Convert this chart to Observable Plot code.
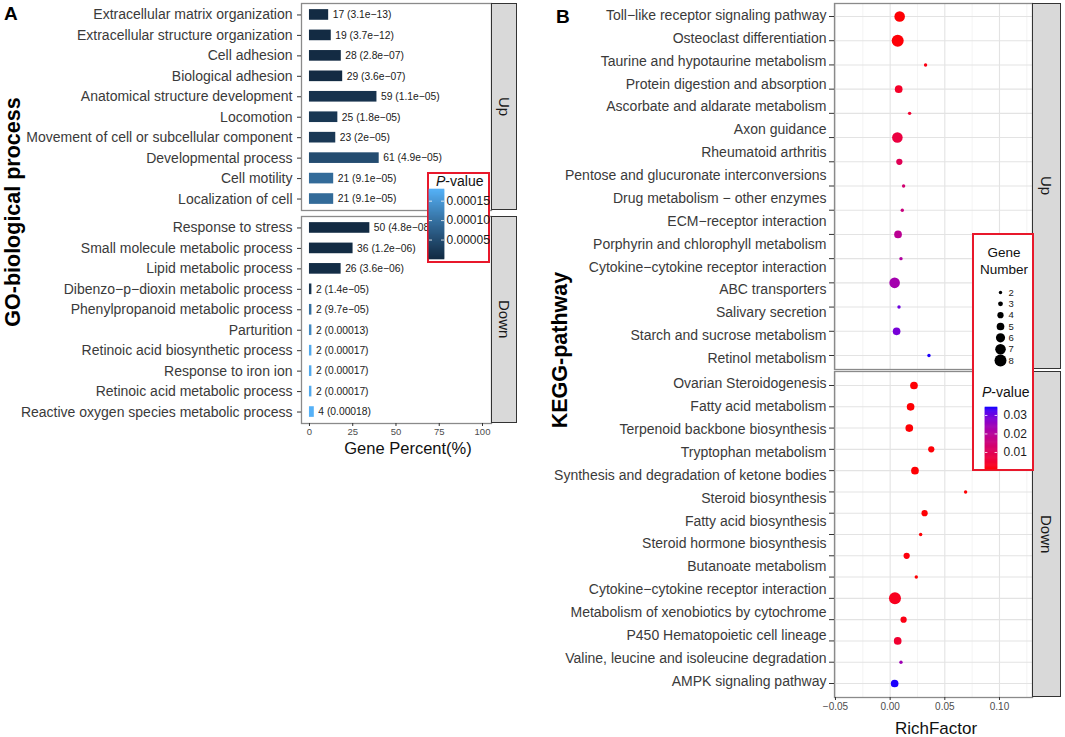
<!DOCTYPE html>
<html>
<head>
<meta charset="utf-8">
<script src="https://cdn.jsdelivr.net/npm/d3@7"></script>
<script src="https://cdn.jsdelivr.net/npm/@observablehq/plot@0.6"></script>
<style>
  html, body { margin: 0; padding: 0; background: #fff; }
  #root { position: relative; width: 1065px; height: 737px; overflow: hidden; background: #fff;
          font-family: "Liberation Sans", Arial, sans-serif; }
  #root svg { position: absolute; }
  .t { position: absolute; white-space: nowrap; line-height: 1; }
  .strip { position: absolute; background: #D9D9D9; border: 1px solid #333; box-sizing: border-box;
           display: flex; align-items: center; justify-content: center; }
  .strip span { writing-mode: vertical-rl; font-size: 15px; color: #1a1a1a; line-height: 1; }
  .legbox { position: absolute; border: 2px solid #E8182B; background: #fff; box-sizing: border-box; }
</style>
</head>
<body>
<div id="root"></div>
<script>
// ---------------- DATA ----------------
// Panel A: GO biological process
const goUpTerms = ["Extracellular matrix organization", "Extracellular structure organization", "Cell adhesion",
  "Biological adhesion", "Anatomical structure development", "Locomotion",
  "Movement of cell or subcellular component", "Developmental process", "Cell motility", "Localization of cell"];
const goUpCounts = [17, 19, 28, 29, 59, 25, 23, 61, 21, 21];
const goUpPercent = [11.1, 12.6, 18.4, 19.2, 39.0, 16.4, 15.2, 40.3, 14.0, 14.0];
const goUpP = [3.1e-13, 3.7e-12, 2.8e-7, 3.6e-7, 1.1e-5, 1.8e-5, 2e-5, 4.9e-5, 9.1e-5, 9.1e-5];

const goDownTerms = ["Response to stress", "Small molecule metabolic process", "Lipid metabolic process",
  "Dibenzo\u2212p\u2212dioxin metabolic process", "Phenylpropanoid metabolic process", "Parturition",
  "Retinoic acid biosynthetic process", "Response to iron ion", "Retinoic acid metabolic process",
  "Reactive oxygen species metabolic process"];
const goDownCounts = [50, 36, 26, 2, 2, 2, 2, 2, 2, 4];
const goDownPercent = [34.9, 25.2, 18.3, 1.4, 1.4, 1.4, 1.4, 1.4, 1.4, 2.8];
const goDownP = [4.8e-8, 1.2e-6, 3.6e-6, 1.4e-5, 9.7e-5, 0.00013, 0.00017, 0.00017, 0.00017, 0.00018];

const goXTicks = [0, 25, 50, 75, 100];
const goPTicks = [0.00005, 0.00010, 0.00015];

// Panel B: KEGG pathway (axis labels as printed; dots as plotted)
const keggUpLabels = ["Toll\u2212like receptor signaling pathway", "Osteoclast differentiation",
  "Taurine and hypotaurine metabolism", "Protein digestion and absorption", "Ascorbate and aldarate metabolism",
  "Axon guidance", "Rheumatoid arthritis", "Pentose and glucuronate interconversions",
  "Drug metabolism \u2212 other enzymes", "ECM\u2212receptor interaction", "Porphyrin and chlorophyll metabolism",
  "Cytokine\u2212cytokine receptor interaction", "ABC transporters", "Salivary secretion",
  "Starch and sucrose metabolism", "Retinol metabolism"];
const keggUpRich  = [0.0087, 0.0069, 0.0324, 0.0078, 0.0178, 0.0066, 0.0084, 0.0123, 0.0111, 0.0072, 0.0099, 0.0041, 0.0081, 0.0059, 0.0355];
const keggUpGenes = [7, 8, 2, 5, 2, 7, 4, 2, 2, 5, 2, 7, 2, 5, 2];
const keggUpP     = [0.001, 0.0012, 0.002, 0.004, 0.005, 0.007, 0.010, 0.014, 0.016, 0.019, 0.021, 0.023, 0.030, 0.029, 0.034];

const keggDownLabels = ["Ovarian Steroidogenesis", "Fatty acid metabolism", "Terpenoid backbone biosynthesis",
  "Tryptophan metabolism", "Synthesis and degradation of ketone bodies", "Steroid biosynthesis",
  "Fatty acid biosynthesis", "Steroid hormone biosynthesis", "Butanoate metabolism",
  "Cytokine\u2212cytokine receptor interaction", "Metabolism of xenobiotics by cytochrome",
  "P450 Hematopoietic cell lineage", "Valine, leucine and isoleucine degradation", "AMPK signaling pathway"];
const keggDownRich  = [0.0218, 0.0187, 0.0175, 0.0376, 0.0227, 0.0690, 0.0315, 0.0279, 0.0151, 0.0239, 0.0044, 0.0123, 0.0069, 0.0099, 0.0041];
const keggDownGenes = [5, 5, 5, 4, 5, 2, 4, 2, 4, 2, 8, 4, 5, 2, 5];
const keggDownP     = [0.001, 0.001, 0.001, 0.0012, 0.001, 0.001, 0.001, 0.001, 0.0015, 0.001, 0.003, 0.002, 0.005, 0.024, 0.034];

const keggXTicks = [-0.05, 0, 0.05, 0.10];
const keggXMinor = [-0.025, 0.025, 0.075, 0.125];
const keggPTicks = [0.01, 0.02, 0.03];
const geneNumberKeys = [2, 3, 4, 5, 6, 7, 8];

// ---------------- HELPERS ----------------
const root = document.getElementById("root");
const FONT = "'Liberation Sans', Arial, sans-serif";
const LABEL = "#3a3a3a";

function put(svg, left, top) {
  svg.style.left = left + "px";
  svg.style.top = top + "px";
  root.appendChild(svg);
  return svg;
}
function text(str, cx, cy, opts = {}) {
  const d = document.createElement("div");
  d.className = "t";
  if (opts.html) d.innerHTML = str; else d.textContent = str;
  d.style.left = cx + "px";
  d.style.top = cy + "px";
  d.style.fontSize = (opts.size || 14) + "px";
  d.style.fontWeight = opts.weight || "normal";
  d.style.color = opts.color || "#000";
  const tx = opts.anchor === "start" ? "0" : "-50%";
  d.style.transform = `translate(${tx},-50%)` + (opts.rotate ? " rotate(-90deg)" : "");
  root.appendChild(d);
  return d;
}
function strip(label, left, top, w, h) {
  const d = document.createElement("div");
  d.className = "strip";
  Object.assign(d.style, {left: left + "px", top: top + "px", width: w + "px", height: h + "px"});
  const s = document.createElement("span");
  s.textContent = label;
  d.appendChild(s);
  root.appendChild(d);
}
function box(left, top, w, h) {
  const d = document.createElement("div");
  d.className = "legbox";
  Object.assign(d.style, {left: left + "px", top: top + "px", width: w + "px", height: h + "px"});
  root.appendChild(d);
}
function fmtP(p) {
  if (p >= 1e-4) return String(+p.toPrecision(2));
  const [m, e] = p.toExponential(1).split("e");
  const ee = Math.abs(+e);
  return String(+m) + "e\u2212" + (ee < 10 ? "0" : "") + ee;
}
const baseStyle = {background: "transparent", overflow: "visible", fontFamily: FONT};

// ---------------- PANEL A ----------------
const goColor = {type: "linear", domain: [0, 0.00018], range: ["#132B43", "#56B1F7"], interpolate: "lab"};
const goX = {domain: [-4.6, 105.2]};

function goPlot(terms, pct, counts, pv, showX) {
  const rows = terms.map((t, i) => ({term: t, pct: pct[i], n: counts[i], p: pv[i]}));
  const height = showX ? 230 : 211;
  const marks = [
    Plot.frame({stroke: "#8a8a8a", strokeWidth: 1.3}),
    Plot.barX(rows, {x: "pct", y: "term", fill: "p"}),
    Plot.text(rows, {x: "pct", y: "term", text: d => `${d.n} (${fmtP(d.p)})`, textAnchor: "start",
      dx: 4, fontSize: 10.3, fill: "#1a1a1a"}),
    Plot.axisY({tickSize: 4, tickPadding: 5, fontSize: 14, fill: LABEL, stroke: "#333", label: null})
  ];
  if (showX) marks.push(Plot.axisX({ticks: goXTicks, tickSize: 3, tickPadding: 2, fontSize: 9.5,
    fill: "#4d4d4d", stroke: "#333", label: null}));
  return Plot.plot({
    width: 491, height,
    marginLeft: 301, marginRight: 0, marginTop: 3, marginBottom: showX ? 20 : 1,
    x: showX ? goX : {...goX, axis: null},
    y: {type: "band", domain: terms, paddingInner: 0.48, paddingOuter: 0.3, round: false},
    color: goColor,
    style: baseStyle,
    marks
  });
}

put(goPlot(goUpTerms, goUpPercent, goUpCounts, goUpP, false), 0, 0);
put(goPlot(goDownTerms, goDownPercent, goDownCounts, goDownP, true), 0, 213);
strip("Up", 491, 3, 26, 207);
strip("Down", 491, 216, 26, 207);

text("A", 4, 13, {size: 19, weight: "bold", anchor: "start"});
text("GO-biological process", 14, 212, {size: 21.5, weight: "bold", rotate: true});
text("Gene Percent(%)", 408, 448, {size: 16.5, color: "#111"});

// ---------------- PANEL B ----------------
const keggColor = {type: "linear", domain: [0.0008, 0.0343], range: ["red", "blue"], interpolate: "lab"};
const keggR = {type: "linear", domain: [2, 8], range: [1.7, 6]};
const keggX = {domain: [-0.0509, 0.1302]};

function keggDots(rich, genes, pv, top, height, marginBottom, insetTop, insetBottom, showX) {
  const rows = rich.map((x, i) => ({k: i + 1, x, g: genes[i], p: pv[i]}));
  const marks = [
    Plot.gridX({ticks: keggXMinor, stroke: "#ececec", strokeOpacity: 1, strokeWidth: 0.6}),
    Plot.gridX({ticks: keggXTicks, stroke: "#e3e3e3", strokeOpacity: 1, strokeWidth: 1.1}),
    Plot.gridY({stroke: "#e3e3e3", strokeOpacity: 1, strokeWidth: 1.1}),
    Plot.frame({stroke: "#8a8a8a", strokeWidth: 1.3}),
    Plot.dot(rows, {x: "x", y: "k", r: "g", fill: "p"}),
    Plot.axisY({tickSize: 5, tickFormat: () => "", stroke: "#333", label: null})
  ];
  if (showX) marks.push(Plot.axisX({ticks: keggXTicks, tickFormat: d3.format(".2f"), tickSize: 3, tickPadding: 2,
    fontSize: 10, fill: "#4d4d4d", stroke: "#333", label: null}));
  return put(Plot.plot({
    width: 492, height,
    marginLeft: 294, marginRight: 0, marginTop: 3, marginBottom,
    x: showX ? keggX : {...keggX, axis: null},
    y: {type: "point", domain: rows.map(d => d.k), padding: 0, round: false, insetTop, insetBottom},
    r: keggR,
    color: keggColor,
    style: baseStyle,
    marks
  }), 540, top);
}
function keggLabels(labels, top, height, marginBottom, insetTop, insetBottom) {
  return put(Plot.plot({
    width: 492, height,
    marginLeft: 294, marginRight: 0, marginTop: 3, marginBottom,
    y: {type: "point", domain: labels, padding: 0, round: false, insetTop, insetBottom},
    style: baseStyle,
    marks: [Plot.axisY({tickSize: 0, tickPadding: 8, fontSize: 14, fill: LABEL, label: null})]
  }), 540, top);
}

keggDots(keggUpRich, keggUpGenes, keggUpP, 0, 370, 1, 13, 14, false);
keggLabels(keggUpLabels, 0, 370, 1, 12, 11);
keggDots(keggDownRich, keggDownGenes, keggDownP, 368, 369, 40, 14, 14, true);
keggLabels(keggDownLabels, 368, 369, 40, 12, 16);
strip("Up", 1032, 3, 29, 366);
strip("Down", 1032, 371, 29, 326);

text("B", 556, 16, {size: 19, weight: "bold", anchor: "start"});
text("KEGG-pathway", 561, 350, {size: 21.5, weight: "bold", rotate: true});
text("RichFactor", 936, 728, {size: 17, color: "#111"});

// ---------------- LEGENDS ----------------
function colorbar(colorOpts, ticks, fmt, left, top, barW, barH, pad, fontSize) {
  const [a, b] = colorOpts.domain;
  const n = 70;
  const cells = d3.range(n).map(i => ({y1: a + (b - a) * i / n, y2: a + (b - a) * (i + 1) / n, v: a + (b - a) * (i + 0.5) / n}));
  put(Plot.plot({
    width: barW + 60, height: barH + 6,
    marginTop: 3, marginBottom: 3, marginLeft: 0, marginRight: 60,
    x: {domain: [0, 1], axis: null},
    y: {domain: colorOpts.domain, axis: null},
    color: colorOpts,
    style: baseStyle,
    marks: [
      Plot.rect(cells, {x1: 0, x2: 1, y1: "y1", y2: "y2", fill: "v", stroke: "v", strokeWidth: 0.6}),
      Plot.ruleY(ticks, {x1: 0, x2: 0.2, stroke: "white", strokeWidth: 0.8}),
      Plot.ruleY(ticks, {x1: 0.8, x2: 1, stroke: "white", strokeWidth: 0.8}),
      Plot.axisY({anchor: "right", ticks, tickFormat: fmt, tickSize: 0, tickPadding: pad,
        fontSize, fill: "#1a1a1a", label: null})
    ]
  }), left, top - 3);
}

// Panel A legend
box(427, 172, 63, 91);
text("<i>P</i>-value", 436, 181, {size: 14, html: true, anchor: "start", color: "#111"});
colorbar(goColor, goPTicks, d3.format(".5f"), 429, 189, 15, 70, 2, 12);

// Panel B legend
box(972, 233, 62, 238);
text("Gene", 1004, 253, {size: 13.5, color: "#111"});
text("Number", 1004, 270, {size: 13.5, color: "#111"});
put(Plot.plot({
  width: 40, height: 82, marginTop: 7, marginBottom: 7, marginLeft: 0, marginRight: 0,
  y: {type: "point", domain: geneNumberKeys, padding: 0, round: false, axis: null},
  r: keggR,
  style: baseStyle,
  marks: [
    Plot.dot(geneNumberKeys, {y: d => d, r: d => d, fill: "black", frameAnchor: "left", dx: 15}),
    Plot.text(geneNumberKeys, {y: d => d, text: d => String(d), frameAnchor: "left", dx: 23,
      textAnchor: "start", fontSize: 9.5, fill: "#1a1a1a"})
  ]
}), 985, 285);
text("<i>P</i>-value", 982, 392, {size: 14, html: true, anchor: "start", color: "#111"});
colorbar(keggColor, keggPTicks, d3.format(".2f"), 985, 407, 12, 62, 6, 12);
</script>
</body>
</html>
